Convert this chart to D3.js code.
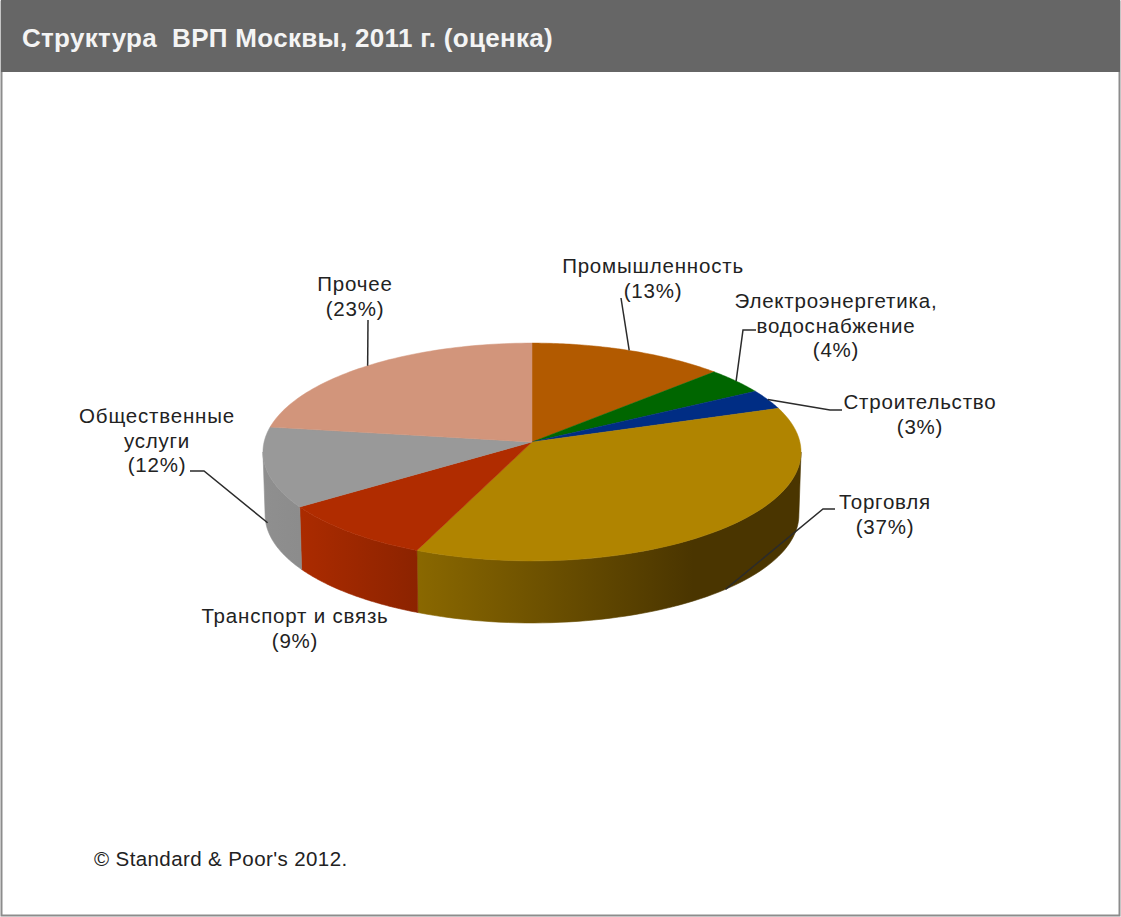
<!DOCTYPE html>
<html>
<head>
<meta charset="utf-8">
<script src="https://cdn.jsdelivr.net/npm/d3@7"></script>
<style>
html,body{margin:0;padding:0;background:#fff}
svg{display:block}
text{font-family:"Liberation Sans",Arial,sans-serif;white-space:pre}
</style>
</head>
<body>
<svg id="chart" width="1121" height="917"></svg>
<script>
// Chart content
const titleText = "Структура  ВРП Москвы, 2011 г. (оценка)";
const creditText = "© Standard & Poor's 2012.";
const sectors = ["Промышленность","Электроэнергетика, водоснабжение","Строительство","Торговля","Транспорт и связь","Общественные услуги","Прочее"];
const shares = [13,4,3,37,9,12,23];
const topColors = ["#b25a00","#006600","#002d84","#b08400","#b02c00","#999999","#d2957b"];
const sideLight = ["#8a4600","#004d00","#002266","#8a6800","#ab2b00","#8f8f8f","#a87560"];
const sideDark  = ["#8a4600","#004d00","#002266","#4a3500","#8c2300","#8c8c8c","#a87560"];

// Label wording split into lines
const labelLines = [
  ["Промышленность","(13%)"],
  ["Электроэнергетика,","водоснабжение","(4%)"],
  ["Строительство","(3%)"],
  ["Торговля","(37%)"],
  ["Транспорт и связь","(9%)"],
  ["Общественные","услуги","(12%)"],
  ["Прочее","(23%)"]
];
// Label centre and first baseline
const labelX = [653,836,920,885,295,157,355];
const labelY = [273,308,409,509,623,423,291];
// Leader routes relative to the rim anchor; empty for slices without a leader
const leaderRim = [0,0,0,1,null,0.88,0];
const leaderBends = [
  [[621,298]],
  [[743,330],[756,330]],
  [[830,410],[842,410]],
  [[823,509],[835,509]],
  [],
  [[204,471],[190,471]],
  [[368,320]]
];

const W = 1121, H = 917;
const svg = d3.select("#chart");

// Perspective projection of the pie disc: the apex sits above the ellipse centre
const apex = {x:532, y:442};
const spread = 267.9, lift = 108, tilt = 0.0917;
const depth = 63, baseScale = 0.992;
function project(angle, level){
  const u = Math.sin(angle), v = Math.cos(angle), w = 1 + tilt*v;
  const s = 1 + (baseScale-1)*level;
  return [apex.x + s*spread*u/w, apex.y + depth*level - s*lift*v/w];
}
const line = d3.line();

// Card frame and heading
svg.append("rect").attr("x",1.5).attr("y",1.5).attr("width",W-3).attr("height",H-3)
  .attr("fill","#fff").attr("stroke","#8c8c8c").attr("stroke-width",2);
svg.append("rect").attr("x",1).attr("y",0).attr("width",W-2).attr("height",72).attr("fill","#666666");
svg.append("text").attr("x",22).attr("y",47).attr("fill","#f4f4f4")
  .attr("font-size",26).attr("letter-spacing",0.3).attr("font-weight","bold").text(titleText);

const slices = d3.pie().sort(null).startAngle(0).endAngle(2*Math.PI)(shares);
const rimPoints = (a0,a1,level)=>d3.range(0,65).map(i=>project(a0+(a1-a0)*i/64,level));

// Side-wall gradients, horizontal across each slice's visible extent
const defs = svg.append("defs");
slices.forEach((d,i)=>{
  const xs = rimPoints(d.startAngle,d.endAngle,0).map(p=>p[0]);
  const g = defs.append("linearGradient").attr("id","wall"+i)
    .attr("gradientUnits","userSpaceOnUse")
    .attr("x1",d3.min(xs)).attr("x2",d3.max(xs)).attr("y1",0).attr("y2",0);
  g.append("stop").attr("offset",0).attr("stop-color",sideLight[i]);
  g.append("stop").attr("offset",i===3?0.72:1).attr("stop-color",sideDark[i]);
});

// Side walls, between the two silhouette tangents of the projected rim
const frontFrom = Math.PI/2 + Math.asin(tilt), frontTo = 3*Math.PI/2 - Math.asin(tilt);
slices.forEach((d,i)=>{
  const a0 = Math.max(d.startAngle,frontFrom), a1 = Math.min(d.endAngle,frontTo);
  if(a1<=a0) return;
  const pts = rimPoints(a0,a1,0).concat(rimPoints(a0,a1,1).reverse());
  svg.append("path").attr("d",line(pts)+"Z").attr("fill",`url(#wall${i})`)
    .attr("stroke",`url(#wall${i})`).attr("stroke-width",0.6);
});

// Top surface
slices.forEach((d,i)=>{
  const pts = [[apex.x,apex.y]].concat(rimPoints(d.startAngle,d.endAngle,0));
  svg.append("path").attr("d",line(pts)+"Z").attr("fill",topColors[i])
    .attr("stroke",topColors[i]).attr("stroke-width",0.5);
});

// Leader lines from the middle of each slice's rim to its label
slices.forEach((d,i)=>{
  if(leaderRim[i]===null) return;
  const pts = [project((d.startAngle+d.endAngle)/2,leaderRim[i])].concat(leaderBends[i]);
  svg.append("path").attr("d",line(pts)).attr("fill","none")
    .attr("stroke","#2b2b2b").attr("stroke-width",1.5);
});

// Slice labels
sectors.forEach((name,i)=>{
  const t = svg.append("text").attr("text-anchor","middle").attr("fill","#222")
    .attr("font-size",20.5).attr("letter-spacing",0.8);
  labelLines[i].forEach((s,k)=>{
    t.append("tspan").attr("x",labelX[i]).attr("y",labelY[i]+k*24.5).text(s);
  });
});

svg.append("text").attr("x",94).attr("y",866).attr("fill","#222")
  .attr("font-size",20.5).attr("letter-spacing",0.4).text(creditText);
</script>
</body>
</html>
